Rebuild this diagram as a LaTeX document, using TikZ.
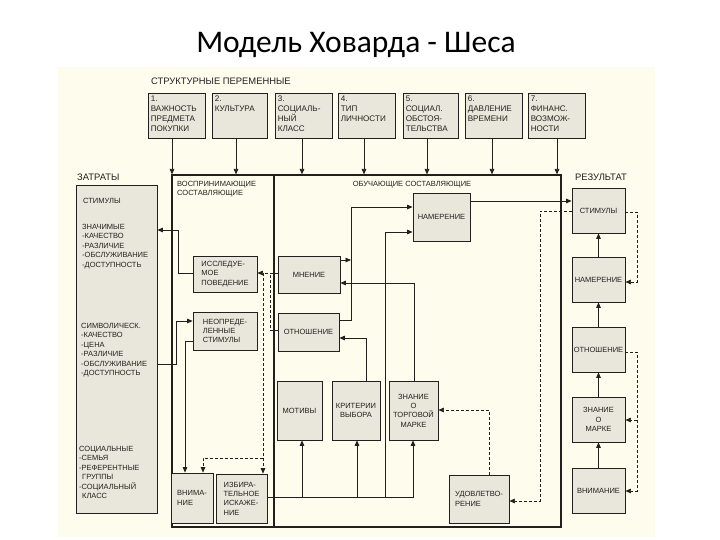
\documentclass[tikz,border=0pt]{standalone}
\usepackage{fontspec}
\setmainfont{Liberation Sans}
\newfontfamily\titlefont{Carlito}
\usetikzlibrary{arrows.meta,calc}
\definecolor{bgc}{RGB}{254,252,236}
\definecolor{boxfill}{RGB}{233,230,220}
\definecolor{linec}{RGB}{34,32,30}
\definecolor{txtc}{RGB}{35,33,30}
\newcommand{\bx}[6]{\node[box] (#1) [minimum width={#4-#2}, minimum height={#5-#3}] at ({(#2+#4)/2},{(#3+#5)/2}) {#6};}
\newcommand{\bxl}[6]{\node[box, align=left] (#1) [minimum width={#4-#2}, minimum height={#5-#3}] at ({(#2+#4)/2},{(#3+#5)/2}) {#6};}
\tikzset{
  box/.style={draw=linec, fill=boxfill, line width=0.8pt, inner sep=0pt, align=center, text=txtc, font=\fontsize{7.5}{9.4}\selectfont},
  stxt/.style={inner sep=0pt, align=left, text=txtc, font=\fontsize{7.5}{9.5}\selectfont},
  ttxt/.style={inner sep=0pt, align=left, text=txtc, font=\fontsize{8.1}{10}\selectfont},
  htxt/.style={inner sep=0pt, text=txtc, font=\fontsize{9.4}{11}\selectfont},
  arr/.style={draw=linec, line width=0.75pt, -{Triangle[length=5.5pt,width=4.6pt]}},
  ln/.style={draw=linec, line width=0.75pt},
  dsh/.style={draw=linec, line width=0.65pt, dash pattern=on 3pt off 2pt},
  darr/.style={dsh, -{Triangle[length=5.5pt,width=4.6pt]}}
}
\begin{document}
\begin{tikzpicture}[x=1pt,y=-1pt]
\useasboundingbox (0,0) rectangle (720,540);
\fill[white] (0,0) rectangle (720,540);
\fill[bgc] (58,67) rectangle (655,537);
% title
\node[anchor=base, inner sep=0pt, font=\titlefont\fontsize{31.5}{34}\selectfont] (title) at (356,53) {Модель Ховарда - Шеса};
% headers
\node[htxt, anchor=west] (hstr) at (151,81) {СТРУКТУРНЫЕ ПЕРЕМЕННЫЕ};
\node[htxt, anchor=west] (hin) at (77,177) {ЗАТРАТЫ};
\node[htxt, anchor=west] (hout) at (575,177) {РЕЗУЛЬТАТ};
% top boxes
\bx{tb1}{148}{93}{205}{138}{}
\bx{tb2}{212}{93}{267}{138}{}
\bx{tb3}{275}{93}{332}{138}{}
\bx{tb4}{338}{93}{395}{138}{}
\bx{tb5}{403}{93}{458}{138}{}
\bx{tb6}{465}{93}{522}{138}{}
\bx{tb7}{528}{93}{585}{138}{}
\node[ttxt, anchor=north west] (tt1) at ($(tb1.north west)+(3,3)$) {1.\\ВАЖНОСТЬ\\ПРЕДМЕТА\\ПОКУПКИ};
\node[ttxt, anchor=north west] (tt2) at ($(tb2.north west)+(3,3)$) {2.\\КУЛЬТУРА};
\node[ttxt, anchor=north west] (tt3) at ($(tb3.north west)+(3,3)$) {3.\\СОЦИАЛЬ-\\НЫЙ\\КЛАСС};
\node[ttxt, anchor=north west] (tt4) at ($(tb4.north west)+(3,3)$) {4.\\ТИП\\ЛИЧНОСТИ};
\node[ttxt, anchor=north west] (tt5) at ($(tb5.north west)+(3,3)$) {5.\\СОЦИАЛ.\\ОБСТОЯ-\\ТЕЛЬСТВА};
\node[ttxt, anchor=north west] (tt6) at ($(tb6.north west)+(3,3)$) {6.\\ДАВЛЕНИЕ\\ВРЕМЕНИ};
\node[ttxt, anchor=north west] (tt7) at ($(tb7.north west)+(3,3)$) {7.\\ФИНАНС.\\ВОЗМОЖ-\\НОСТИ};
% main frame
\node[draw=linec, line width=1.2pt, inner sep=0pt, minimum width=389, minimum height=352] (frame) at (366.5,351) {};
\draw[draw=linec, line width=1.1pt] (frame.north -| 274,0) -- (frame.south -| 274,0);
\node[stxt, anchor=north west] (hper) at (177,181) {ВОСПРИНИМАЮЩИЕ\\СОСТАВЛЯЮЩИЕ};
\node[stxt, anchor=center] (hlearn) at (412,185) {ОБУЧАЮЩИЕ СОСТАВЛЯЮЩИЕ};
% arrows from top boxes
\draw[arr] (tb1.south -| 172,0) -- (frame.north -| 172,0);
\draw[arr] (tb2.south -| 236,0) -- (frame.north -| 236,0);
\draw[arr] (tb3.south -| 302,0) -- (frame.north -| 302,0);
\draw[arr] (tb4.south -| 364,0) -- (frame.north -| 364,0);
\draw[arr] (tb5.south -| 427,0) -- (frame.north -| 427,0);
\draw[arr] (tb6.south -| 492,0) -- (frame.north -| 492,0);
\draw[arr] (tb7.south -| 557,0) -- (frame.north -| 557,0);
% input box
\bx{inp}{76}{185}{157}{513}{}
\node[stxt, anchor=west] (in1) at (83,201) {СТИМУЛЫ};
\node[stxt, anchor=north west] (in2) at (82,224) {ЗНАЧИМЫЕ\\-КАЧЕСТВО\\-РАЗЛИЧИЕ\\-ОБСЛУЖИВАНИЕ\\-ДОСТУПНОСТЬ};
\node[stxt, anchor=north west] (in3) at (81,323) {СИМВОЛИЧЕСК.\\-КАЧЕСТВО\\-ЦЕНА\\-РАЗЛИЧИЕ\\-ОБСЛУЖИВАНИЕ\\-ДОСТУПНОСТЬ};
\node[stxt, anchor=north west] (in4) at (79,446) {СОЦИАЛЬНЫЕ\\-СЕМЬЯ\\-РЕФЕРЕНТНЫЕ\\\hspace{3pt}ГРУППЫ\\-СОЦИАЛЬНЫЙ\\\hspace{3pt}КЛАСС};
% perceptual boxes
\bxl{ism}{193}{256}{257}{292}{ИССЛЕДУЕ-\\МОЕ\\ПОВЕДЕНИЕ}
\bxl{neo}{193}{312}{257}{350}{НЕОПРЕДЕ-\\ЛЕННЫЕ\\СТИМУЛЫ}
\bxl{vni}{171}{473}{213}{523}{ВНИМА-\\НИЕ}
\bxl{izb}{216}{474}{267}{523}{ИЗБИРА-\\ТЕЛЬНОЕ\\ИСКАЖЕ-\\НИЕ}
% learning boxes
\bx{nam}{413}{193}{470}{241}{НАМЕРЕНИЕ}
\bx{mn}{278}{256}{340}{293}{МНЕНИЕ}
\bx{otn}{278}{313}{339}{351}{ОТНОШЕНИЕ}
\bx{mot}{277}{381}{322}{440}{МОТИВЫ}
\bx{krit}{332}{381}{380}{440}{КРИТЕРИИ\\ВЫБОРА}
\bx{zn}{389}{381}{438}{440}{ЗНАНИЕ\\О\\ТОРГОВОЙ\\МАРКЕ}
\bxl{udv}{449}{475}{509}{523}{УДОВЛЕТВО-\\РЕНИЕ}
% output boxes
\bx{os}{572}{188}{625}{233}{СТИМУЛЫ}
\bx{on}{572}{257}{625}{302}{НАМЕРЕНИЕ}
\bx{oo}{572}{327}{625}{372}{ОТНОШЕНИЕ}
\bx{oz}{572}{397}{625}{442}{ЗНАНИЕ\\О\\МАРКЕ}
\bx{ov}{572}{468}{625}{513}{ВНИМАНИЕ}
% perceptual connectors
\draw[arr] (ism.west |- 0,273) -| (178,230) -- (inp.east |- 0,230);
\draw[arr] (inp.east |- 0,364) -| (176,321) -- (neo.west |- 0,321);
\draw[arr] (neo.west |- 0,341) -| (vni.north -| 185,0);
\draw[darr] (mn.west |- 0,273) -- (ism.east |- 0,273);
\coordinate (j1) at (263,273);
\coordinate (j2) at (263,458);
\draw[darr] (j1) -- (izb.north -| 263,0);
\draw[darr] (j2) -| (vni.north -| 203,0);
\draw[dsh] (otn.west |- 0,330) -| (270,273);
% learning connectors
\draw[ln] (izb.east |- 0,497) -- (413,497);
\draw[arr] (izb.east |- 0,497) -| (mot.south -| 302,0);
\draw[arr] (izb.east |- 0,497) -| (krit.south -| 357,0);
\draw[arr] (izb.east |- 0,497) -| (zn.south -| 413,0);
\draw[arr] (izb.east |- 0,497) -| (385,232) -- (nam.west |- 0,232);
\draw[arr] (otn.east |- 0,320) -| (351,207) -- (nam.west |- 0,207);
\draw[arr] (mn.east |- 0,260) -- (351,260);
\draw[arr] (zn.north -| 414,0) |- (mn.east |- 0,283);
\draw[arr] (krit.north -| 366,0) |- (otn.east |- 0,338);
\draw[arr] (nam.east |- 0,201) -- (os.west |- 0,201);
\draw[darr] (os.west |- 0,211) -| (540,501) -- (udv.east |- 0,501);
\draw[darr] (udv.north -| 489,0) |- (zn.east |- 0,410);
% output connectors
\draw[arr] (ov.north) -- (oz.south);
\draw[arr] (oz.north) -- (oo.south);
\draw[arr] (oo.north) -- (on.south);
\draw[arr] (on.north) -- (os.south);
\draw[darr] (os.east |- 0,212) -| (637,282) -- (on.east |- 0,282);
\coordinate (j3) at (637,420);
\draw[darr] (oo.east |- 0,352) -| (j3) -- (oz.east |- 0,420);
\draw[darr] (j3) |- (ov.east |- 0,491);
\end{tikzpicture}
\end{document}
